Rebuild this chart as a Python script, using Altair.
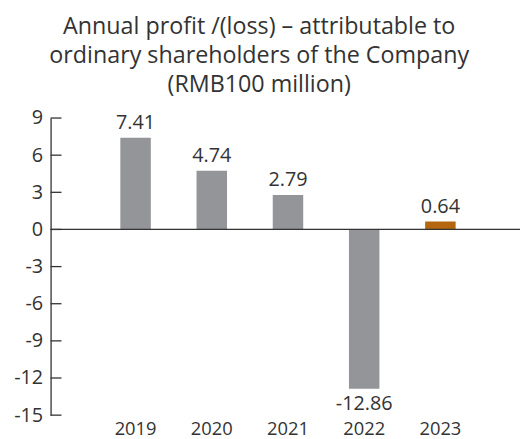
import altair as alt
import pandas as pd

years = ["2019", "2020", "2021", "2022", "2023"]
values = [7.41, 4.74, 2.79, -12.86, 0.64]
labels = ["7.41", "4.74", "2.79", "-12.86", "0.64"]
highlight = [False, False, False, False, True]
y_ticks = [9, 6, 3, 0, -3, -6, -9, -12, -15]

df = pd.DataFrame({"year": years, "value": values, "label": labels, "hl": highlight})
ticks_df = pd.DataFrame({"t": y_ticks})
zero_df = pd.DataFrame({"z": [0]})

FONT = "Open Sans"
TXT = "#333333"

xscale = alt.Scale(domain=years, paddingInner=0.6, paddingOuter=0.88, align=0.52)
yscale = alt.Scale(domain=[-15, 9], nice=False, zero=False)

xaxis = alt.Axis(title=None, labelAngle=0, domain=False, ticks=False, labelOverlap=False,
                 labelFont=FONT, labelFontSize=18.5, labelColor=TXT, labelPadding=5)
yaxis = alt.Axis(title=None, values=y_ticks, tickSize=0, domainColor="#333333",
                 domainWidth=1.3, grid=False, labelFont=FONT, labelFontSize=20,
                 labelOverlap=False, labelBound=False, labelFlush=False,
                 labelExpr="toString(datum.value)",
                 labelColor=TXT, labelPadding=8)

X = alt.X("year:N", scale=xscale, sort=years, axis=xaxis)


def Y(field):
    return alt.Y(field, scale=yscale, axis=yaxis)


base = alt.Chart(df)

bars = base.mark_bar().encode(
    x=X,
    y=Y("value:Q"),
    color=alt.Color("hl:N", scale=alt.Scale(domain=[False, True], range=["#939598", "#B5670F"]),
                    legend=None),
)

pos_text = base.transform_filter("datum.value >= 0").mark_text(
    baseline="alphabetic", dy=-9, font=FONT, fontSize=20, color=TXT
).encode(x=X, y=Y("value:Q"), text="label:N")

neg_text = base.transform_filter("datum.value < 0").mark_text(
    baseline="alphabetic", dy=22, font=FONT, fontSize=20, color=TXT
).encode(x=X, y=Y("value:Q"), text="label:N")

zero_line = alt.Chart(zero_df).mark_rule(color="#333333", strokeWidth=1.3).encode(
    y=Y("z:Q")
)

tick_marks = alt.Chart(ticks_df).mark_rule(color="#333333", strokeWidth=1.3).encode(
    y=Y("t:Q"), x=alt.value(0), x2=alt.value(11)
)

chart = alt.layer(bars, zero_line, tick_marks, pos_text, neg_text).properties(
    width=474, height=300,
    padding={"left": 5, "top": 5, "right": 0, "bottom": 0},
    title=alt.TitleParams(
        ["Annual profit /(loss) \u2013 attributable to", "ordinary shareholders of the Company", "(RMB100 million)"],
        font=FONT, fontSize=23.5, fontWeight="normal", color="#333333", lineHeight=29,
        anchor="middle", offset=12, frame="bounds", dx=-8,
    ),
).configure_view(stroke=None)

chart.save("out.html", embed_options={"renderer": "svg", "actions": False})
